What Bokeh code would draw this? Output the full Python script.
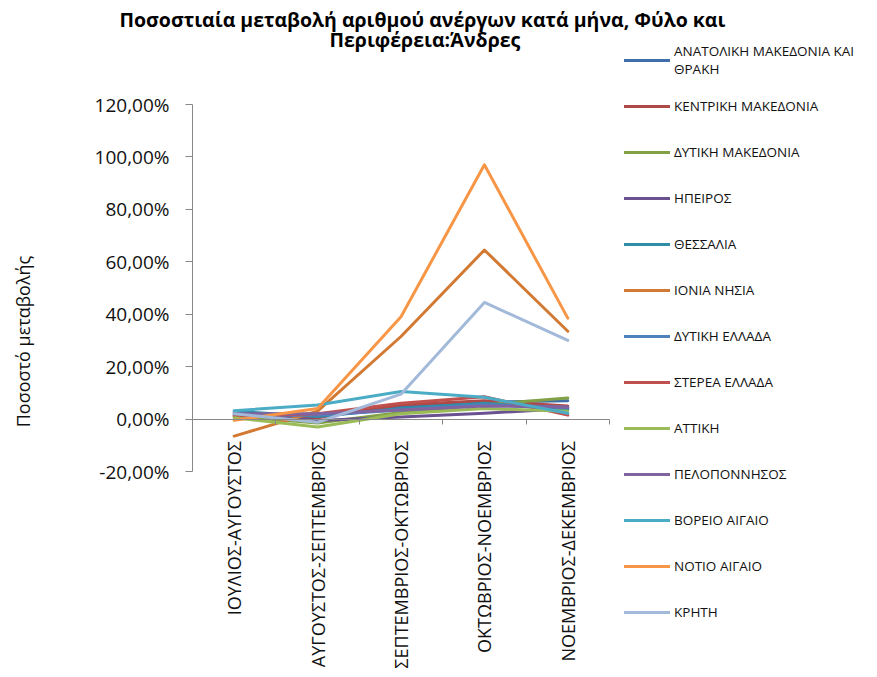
import math
from bokeh.plotting import figure
from bokeh.models import (Range1d, LinearAxis, FixedTicker, CustomJSTickFormatter,
                          Title, Label)
from bokeh.embed import file_html
from bokeh.resources import INLINE

# ---------------- data ----------------
periods = ["ΙΟΥΛΙΟΣ-ΑΥΓΟΥΣΤΟΣ", "ΑΥΓΟΥΣΤΟΣ-ΣΕΠΤΕΜΒΡΙΟΣ", "ΣΕΠΤΕΜΒΡΙΟΣ-ΟΚΤΩΒΡΙΟΣ",
           "ΟΚΤΩΒΡΙΟΣ-ΝΟΕΜΒΡΙΟΣ", "ΝΟΕΜΒΡΙΟΣ-ΔΕΚΕΜΒΡΙΟΣ"]

regions = ["ΑΝΑΤΟΛΙΚΗ ΜΑΚΕΔΟΝΙΑ ΚΑΙ\nΘΡΑΚΗ", "ΚΕΝΤΡΙΚΗ ΜΑΚΕΔΟΝΙΑ", "ΔΥΤΙΚΗ ΜΑΚΕΔΟΝΙΑ",
           "ΗΠΕΙΡΟΣ", "ΘΕΣΣΑΛΙΑ", "ΙΟΝΙΑ ΝΗΣΙΑ", "ΔΥΤΙΚΗ ΕΛΛΑΔΑ", "ΣΤΕΡΕΑ ΕΛΛΑΔΑ",
           "ΑΤΤΙΚΗ", "ΠΕΛΟΠΟΝΝΗΣΟΣ", "ΒΟΡΕΙΟ ΑΙΓΑΙΟ", "ΝΟΤΙΟ ΑΙΓΑΙΟ", "ΚΡΗΤΗ"]

anatoliki_makedonia_thraki = [2.0, 1.0, 4.5, 6.5, 7.0]
kentriki_makedonia = [1.5, 0.5, 5.5, 7.0, 5.0]
dytiki_makedonia = [1.0, -1.5, 2.5, 5.5, 8.0]
ipeiros = [2.5, -0.5, 0.8, 2.2, 4.0]
thessalia = [3.0, 1.0, 4.0, 6.0, 3.5]
ionia_nisia = [-6.5, 3.0, 31.5, 64.5, 33.5]
dytiki_ellada = [1.5, 1.5, 3.5, 5.5, 4.5]
sterea_ellada = [1.0, 2.0, 6.0, 8.5, 1.5]
attiki = [0.5, -3.0, 2.0, 4.0, 3.0]
peloponnisos = [2.0, 2.0, 3.5, 5.0, 4.5]
voreio_aigaio = [3.2, 5.4, 10.5, 8.3, 2.2]
notio_aigaio = [-0.5, 4.0, 39.0, 97.0, 38.5]
kriti = [2.0, -1.2, 9.5, 44.5, 30.0]

series_values = [anatoliki_makedonia_thraki, kentriki_makedonia, dytiki_makedonia,
                 ipeiros, thessalia, ionia_nisia, dytiki_ellada, sterea_ellada,
                 attiki, peloponnisos, voreio_aigaio, notio_aigaio, kriti]

colors = ["#3F6FAA", "#B04A47", "#82A044", "#6A5190", "#2F8DA8", "#D27A33",
          "#4F81BD", "#C0504D", "#9BBB59", "#8064A2", "#4BACC6", "#F79646", "#A3B9DA"]

y_ticks = [-20, 0, 20, 40, 60, 80, 100, 120]

title_line1 = "Ποσοστιαία μεταβολή αριθμού ανέργων κατά μήνα, Φύλο και"
title_line2 = "Περιφέρεια:Άνδρες"
y_title = "Ποσοστό μεταβολής"

FONT = "Open Sans"

# ---------------- layout geometry (pixels) ----------------
W, H = 876, 676
PLOT_LEFT, PLOT_RIGHT, PLOT_TOP, PLOT_BOTTOM = 192, 609, 104, 471   # value area
FRAME_TOP = 42
N = len(periods)
unit = (PLOT_RIGHT - PLOT_LEFT) / N                 # pixels per category
pct = (PLOT_BOTTOM - PLOT_TOP) / (120 - (-20))      # pixels per percent
x_start = -PLOT_LEFT / unit
x_end = (W - PLOT_LEFT) / unit
y_end = 120 + (PLOT_TOP - FRAME_TOP) / pct
y_start = -20 - (H - PLOT_BOTTOM) / pct

# category positions: centre of each category slot
x_pos = [i + 0.5 for i in range(N)]

p = figure(x_range=Range1d(x_start, x_end), y_range=Range1d(y_start, y_end),
           width=W, height=H, output_backend="svg", toolbar_location=None, title=None,
           min_border_left=0, min_border_right=0, min_border_top=FRAME_TOP,
           min_border_bottom=0)
p.outline_line_color = None
p.xgrid.visible = False
p.ygrid.visible = False
p.background_fill_color = "white"

# title (two lines, each centred over the chart)
t2 = Title(text=title_line2, align="left", offset=329, vertical_align="top", standoff=-25,
           text_font=FONT, text_font_size="19.5px", text_font_style="bold",
           text_color="#000000")
t1 = Title(text=title_line1, align="left", offset=119, vertical_align="top", standoff=7,
           text_font=FONT, text_font_size="19.5px", text_font_style="bold",
           text_color="#000000")
p.add_layout(t2, "above")
p.add_layout(t1, "above")

# y axis at the left edge of the category area
p.yaxis.fixed_location = 0
p.yaxis.bounds = (-20, 120)
p.yaxis.ticker = FixedTicker(ticks=y_ticks)
p.yaxis.formatter = CustomJSTickFormatter(code="return tick.toFixed(2).replace('.', ',') + '%';")
p.yaxis.major_label_text_font = FONT
p.yaxis.major_label_text_font_size = "19px"
p.yaxis.major_label_text_color = "#111111"
p.yaxis.axis_line_color = "#888888"
p.yaxis.major_tick_line_color = "#888888"
p.yaxis.major_tick_out = 7
p.yaxis.major_tick_in = 0
p.yaxis.minor_tick_line_color = None
p.yaxis.major_label_standoff = 16

# y axis title
p.add_layout(Label(x=22, y=H - 341, x_units="screen", y_units="screen", text=y_title,
                   angle=math.pi / 2, text_align="center", text_baseline="middle",
                   text_font=FONT, text_font_size="18px", text_color="#111111"))

# category labels, hanging below the zero line
p.xaxis.fixed_location = 0
p.xaxis.ticker = FixedTicker(ticks=x_pos)
p.xaxis.formatter = CustomJSTickFormatter(args=dict(labels=periods),
                                          code="return labels[Math.round(tick - 0.5)];")
p.xaxis.axis_line_color = None
p.xaxis.major_tick_line_color = None
p.xaxis.minor_tick_line_color = None
p.xaxis.major_tick_out = 0
p.xaxis.major_tick_in = 0
p.xaxis.major_label_orientation = math.pi / 2
p.xaxis.major_label_standoff = 22
p.xaxis.major_label_text_font = FONT
p.xaxis.major_label_text_font_size = "18px"
p.xaxis.major_label_text_color = "#111111"

# category axis line at zero, tick marks between categories
zero_axis = LinearAxis(fixed_location=0, bounds=(0, N),
                       ticker=FixedTicker(ticks=list(range(1, N + 1))),
                       formatter=CustomJSTickFormatter(code="return '';"),
                       major_label_standoff=0, major_tick_in=0, major_tick_out=5,
                       axis_line_color="#888888", major_tick_line_color="#888888",
                       minor_tick_line_color=None)
p.add_layout(zero_axis, "below")

# lines
for name, vals, col in zip(regions, series_values, colors):
    p.line(x=x_pos, y=vals, line_color=col, line_width=3, line_join="round",
           line_cap="round", legend_label=name)

# legend to the right of the lines
lg = p.legend[0]
lg.border_line_color = None
lg.background_fill_alpha = 0
lg.padding = 0
lg.margin = 0
lg.spacing = 10
lg.glyph_width = 46
lg.glyph_height = 36
lg.label_height = 36
lg.label_standoff = 4
lg.label_text_font = FONT
lg.label_text_font_size = "13.5px"
lg.label_text_color = "#111111"
legend_height = len(regions) * 36 + (len(regions) - 1) * 10
lg.location = (624, H - FRAME_TOP - legend_height)

open("out.html", "w").write(file_html(p, INLINE))
